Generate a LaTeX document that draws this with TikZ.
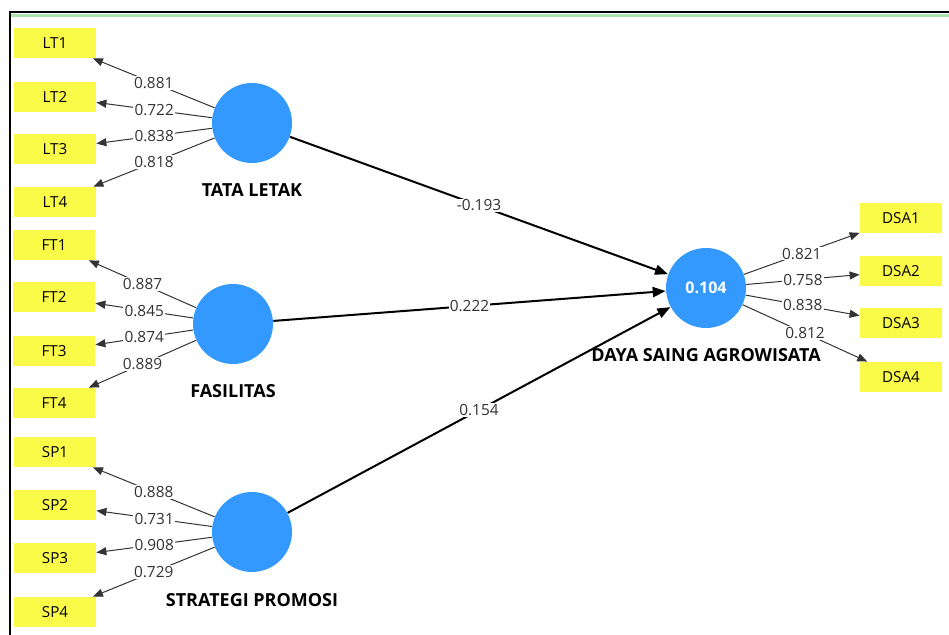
\documentclass[tikz,border=0pt]{standalone}
\usepackage{fontspec}
\setmainfont{Open Sans}
\usetikzlibrary{arrows.meta}

\definecolor{indyellow}{RGB}{250,250,72}
\definecolor{lvblue}{RGB}{51,153,255}
\definecolor{framegreen}{RGB}{170,228,170}

\begin{document}
\begin{tikzpicture}[x=0.5pt,y=-0.5pt,
  ind/.style={fill=indyellow,minimum width=41pt,minimum height=15pt,inner sep=0pt,font=\fontsize{7.6}{9}\selectfont},
  lv/.style={circle,fill=lvblue,minimum size=40pt,inner sep=0pt,text=white,font=\fontsize{8}{9}\selectfont\bfseries},
  lvname/.style={font=\fontsize{9}{10}\selectfont\bfseries},
  load/.style={draw=black!80,line width=0.5pt,-{Triangle[length=5pt,width=4pt]}},
  coef/.style={draw=black,line width=1pt,-{Triangle[length=6.5pt,width=5pt]}},
  wt/.style={fill=white,inner sep=0.6pt,text=black!80,font=\fontsize{7.7}{9}\selectfont}]

\useasboundingbox (0,0) rectangle (949,635);

% Frame
\draw[framegreen,line width=1.5pt] (11,15.5) -- (949,15.5);
\draw[line width=1pt] (10,635) -- (10,12) -- (949,12);

% Latent variables
\node[lv] (TL) at (252,123) {};
\node[lv] (FA) at (233,324) {};
\node[lv] (SP) at (252,532) {};
\node[lv] (DS) at (706,288) {0.104};

\node[lvname] (TLname) at (252,190) {TATA LETAK};
\node[lvname] (FAname) at (233,391) {FASILITAS};
\node[lvname] (SPname) at (252,600) {STRATEGI PROMOSI};
\node[lvname] (DSname) at (706,355) {DAYA SAING AGROWISATA};

% Indicators
\node[ind] (LT1) at (55,43) {LT1};
\node[ind] (LT2) at (55,97) {LT2};
\node[ind] (LT3) at (55,149) {LT3};
\node[ind] (LT4) at (55,202) {LT4};

\node[ind] (FT1) at (54,245) {FT1};
\node[ind] (FT2) at (54,297) {FT2};
\node[ind] (FT3) at (54,351) {FT3};
\node[ind] (FT4) at (54,403) {FT4};

\node[ind] (SP1) at (55,452) {SP1};
\node[ind] (SP2) at (55,505) {SP2};
\node[ind] (SP3) at (55,558) {SP3};
\node[ind] (SP4) at (55,612) {SP4};

\node[ind] (DSA1) at (901,218) {DSA1};
\node[ind] (DSA2) at (901,271) {DSA2};
\node[ind] (DSA3) at (901,323) {DSA3};
\node[ind] (DSA4) at (901,377) {DSA4};

% Outer loadings
\draw[load] (TL) -- node[wt] {0.881} (LT1);
\draw[load] (TL) -- node[wt] {0.722} (LT2);
\draw[load] (TL) -- node[wt] {0.838} (LT3);
\draw[load] (TL) -- node[wt] {0.818} (LT4);

\draw[load] (FA) -- node[wt] {0.887} (FT1);
\draw[load] (FA) -- node[wt] {0.845} (FT2);
\draw[load] (FA) -- node[wt] {0.874} (FT3);
\draw[load] (FA) -- node[wt] {0.889} (FT4);

\draw[load] (SP) -- node[wt] {0.888} (SP1);
\draw[load] (SP) -- node[wt] {0.731} (SP2);
\draw[load] (SP) -- node[wt] {0.908} (SP3);
\draw[load] (SP) -- node[wt] {0.729} (SP4);

\draw[load] (DS) -- node[wt] {0.821} (DSA1);
\draw[load] (DS) -- node[wt] {0.758} (DSA2);
\draw[load] (DS) -- node[wt] {0.838} (DSA3);
\draw[load] (DS) -- node[wt] {0.812} (DSA4);

% Path coefficients
\draw[coef] (TL) -- node[wt] {-0.193} (DS);
\draw[coef] (FA) -- node[wt] {0.222} (DS);
\draw[coef] (SP) -- node[wt] {0.154} (DS);

\end{tikzpicture}
\end{document}
